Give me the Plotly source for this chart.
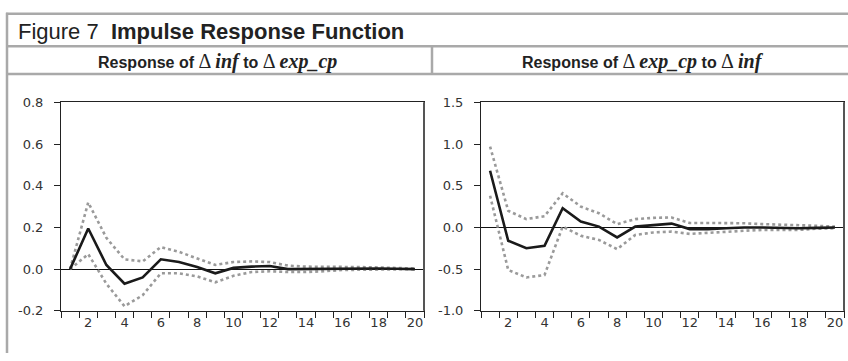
import plotly.graph_objects as go

periods = list(range(1, 21))

# Left panel: Response of Δinf to Δexp_cp
inf_resp = [0.0, 0.195, 0.02, -0.07, -0.04, 0.047, 0.034, 0.01, -0.02, 0.006,
            0.012, 0.015, 0.0, 0.001, 0.002, 0.004, 0.004, 0.003, 0.002, 0.0]
inf_upper = [0.0, 0.32, 0.15, 0.047, 0.037, 0.106, 0.083, 0.052, 0.02, 0.034,
             0.037, 0.034, 0.017, 0.012, 0.012, 0.011, 0.01, 0.008, 0.005, 0.003]
inf_lower = [0.0, 0.072, -0.07, -0.178, -0.125, -0.02, -0.02, -0.035, -0.063, -0.032,
             -0.014, -0.01, -0.014, -0.014, -0.01, -0.004, -0.003, -0.002, -0.001, 0.0]

# Right panel: Response of Δexp_cp to Δinf
exp_resp = [0.68, -0.16, -0.25, -0.22, 0.23, 0.07, 0.01, -0.12, 0.01, 0.027,
            0.046, -0.02, -0.02, -0.01, 0.0, 0.0, -0.005, -0.01, -0.005, 0.0]
exp_upper = [0.97, 0.2, 0.1, 0.135, 0.41, 0.25, 0.17, 0.04, 0.1, 0.115,
             0.12, 0.054, 0.054, 0.054, 0.05, 0.04, 0.035, 0.025, 0.02, 0.01]
exp_lower = [0.38, -0.51, -0.6, -0.57, 0.01, -0.1, -0.15, -0.26, -0.09, -0.06,
             -0.05, -0.077, -0.065, -0.05, -0.04, -0.03, -0.03, -0.03, -0.015, -0.01]

xtick_vals = list(range(2, 21, 2))
left_yticks = [-0.2, 0.0, 0.2, 0.4, 0.6, 0.8]
right_yticks = [-1.0, -0.5, 0.0, 0.5, 1.0, 1.5]

W, H = 848, 361
def px(x): return x / W
def py(y): return 1 - y / H

fig = go.Figure()

band_style = dict(color="#9a9a9a", width=2.6, dash="dot")
mean_style = dict(color="#1a1a1a", width=2.6)

for (resp, up, lo, xa, ya) in [(inf_resp, inf_upper, inf_lower, "x", "y"),
                                (exp_resp, exp_upper, exp_lower, "x2", "y2")]:
    fig.add_trace(go.Scatter(x=periods, y=up, mode="lines", line=band_style,
                             xaxis=xa, yaxis=ya, showlegend=False, hoverinfo="skip"))
    fig.add_trace(go.Scatter(x=periods, y=lo, mode="lines", line=band_style,
                             xaxis=xa, yaxis=ya, showlegend=False, hoverinfo="skip"))
    fig.add_trace(go.Scatter(x=periods, y=resp, mode="lines", line=mean_style,
                             xaxis=xa, yaxis=ya, showlegend=False))

font_main = "Arial, Liberation Sans, sans-serif"
font_tick = "DejaVu Sans, sans-serif"

xaxis_common = dict(
    range=[0.5, 20.5], tickmode="array", tickvals=xtick_vals,
    ticktext=[str(v) for v in xtick_vals], ticks="", showgrid=False,
    zeroline=False, showline=True, linecolor="#222", linewidth=1, mirror=True,
    tickfont=dict(family=font_tick, size=13, color="#333"),
    minor=dict(tickvals=[i + 0.5 for i in range(0, 21)], ticks="outside",
               ticklen=6, tickcolor="#222", tickwidth=1, showgrid=False),
)
yaxis_common = dict(
    ticks="outside", ticklen=6, tickcolor="#222", showgrid=False,
    zeroline=True, zerolinecolor="#111", zerolinewidth=1,
    showline=True, linecolor="#222", linewidth=1, mirror=True,
    ticklabelstandoff=8,
    tickfont=dict(family=font_tick, size=13, color="#333"),
)

y_dom = [py(317), py(99.5)]
fig.update_layout(
    width=W, height=H, margin=dict(l=0, r=0, t=0, b=0),
    paper_bgcolor="white", plot_bgcolor="white",
    xaxis=dict(domain=[px(61), px(424)], anchor="y", **xaxis_common),
    yaxis=dict(domain=y_dom, anchor="x", range=[-0.2, 0.8], tickvals=left_yticks,
               ticktext=[f"{v:.1f}" for v in left_yticks], **yaxis_common),
    xaxis2=dict(domain=[px(481), px(844)], anchor="y2", **xaxis_common),
    yaxis2=dict(domain=y_dom, anchor="x2", range=[-1.0, 1.5], tickvals=right_yticks,
                ticktext=[f"{v:.1f}" for v in right_yticks], **yaxis_common),
)

frame_color = "#a9a9a9"
fw = 2.5
shapes = [
    dict(type="line", xref="paper", yref="paper", x0=px(6), x1=1, y0=py(7), y1=py(7)),
    dict(type="line", xref="paper", yref="paper", x0=px(7), x1=px(7), y0=0, y1=py(6)),
    dict(type="line", xref="paper", yref="paper", x0=px(7), x1=1, y0=py(41), y1=py(41)),
    dict(type="line", xref="paper", yref="paper", x0=px(7), x1=1, y0=py(70), y1=py(70)),
    dict(type="line", xref="paper", yref="paper", x0=px(432), x1=px(432), y0=py(70), y1=py(41)),
]
for s in shapes:
    s["line"] = dict(color=frame_color, width=fw)
# slightly heavier grey right edge of each plot frame, as in the reference
for xr in ["x domain", "x2 domain"]:
    yr = "y domain" if xr == "x domain" else "y2 domain"
    shapes.append(dict(type="line", xref=xr, yref=yr, x0=1, x1=1, y0=0, y1=1,
                       line=dict(color="#555", width=2)))
fig.update_layout(shapes=shapes)

serif = "font-family:'Liberation Serif','DejaVu Serif',serif;font-size:20px"
def sub(a, b):
    return (f"<b>Response of </b><span style=\"{serif}\">Δ\u2009<b><i>{a}</i></b></span>"
            f"<b> to </b><span style=\"{serif}\">Δ\u2009<b><i>{b}</i></b></span>")

fig.add_annotation(x=px(16), y=py(26), xref="paper", yref="paper", xanchor="left",
                   yanchor="middle", showarrow=False,
                   text="Figure 7\u00a0\u00a0<b>Impulse Response Function</b>",
                   font=dict(family=font_main, size=22, color="#222"))
fig.add_annotation(x=px(217), y=py(57), xref="paper", yref="paper", xanchor="center",
                   yanchor="middle", showarrow=False, text=sub("inf", "exp_cp"),
                   font=dict(family=font_main, size=16, color="#222"))
fig.add_annotation(x=px(643), y=py(57), xref="paper", yref="paper", xanchor="center",
                   yanchor="middle", showarrow=False, text=sub("exp_cp", "inf"),
                   font=dict(family=font_main, size=16, color="#222"))

fig.write_html("out.html", config={"displayModeBar": False},
               post_script="document.body.style.margin='0';")
